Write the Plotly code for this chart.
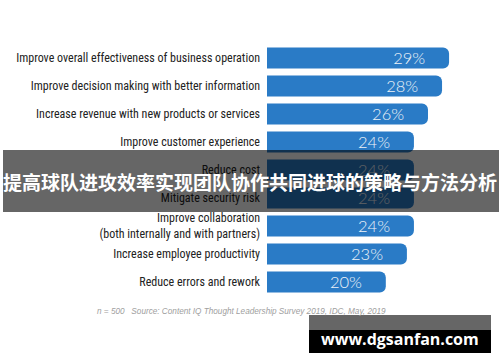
import plotly.graph_objects as go

categories = [
    "Improve overall effectiveness of business operation",
    "Improve decision making with better information",
    "Increase revenue with new products or services",
    "Improve customer experience",
    "Reduce cost",
    "Mitigate security risk",
    "Improve collaboration<br>(both internally and with partners)",
    "Increase employee productivity",
    "Reduce errors and rework",
]
values = [29, 28, 26, 24, 24, 24, 24, 23, 20]
value_labels = [f"{v}%" for v in values]

title_text = "提高球队进攻效率实现团队协作共同进球的策略与方法分析"
source_text = "n = 500   Source: Content IQ Thought Leadership Survey 2019, IDC, May, 2019"
watermark_text = "www.dgsanfan.com"

W, H = 500, 362
L, R, T, B = 267, 0, 44, 66
PW, PH = W - L - R, H - T - B


def px(x):
    return (x - L) / PW


def py(y):
    return (H - B - y) / PH


NB = "\u00a0"
fig = go.Figure(
    go.Bar(
        x=values,
        y=categories,
        orientation="h",
        marker=dict(color="#2a7bc6", cornerradius=6, line=dict(width=0)),
        text=[t + NB * 4 for t in value_labels],
        textposition="inside",
        insidetextanchor="end",
        textangle=0,
        constraintext="none",
        textfont=dict(family="Lato", size=16.5, color="#eef3f8", weight=300),
        hoverinfo="skip",
    )
)

fig.update_layout(
    width=W,
    height=H,
    margin=dict(l=L, r=R, t=T, b=B, pad=0, autoexpand=False),
    paper_bgcolor="white",
    plot_bgcolor="white",
    bargap=0.25,
    showlegend=False,
    uniformtext=dict(minsize=16.5, mode="show"),
    xaxis=dict(range=[3.1, 3.1 + PW / 7.03], visible=False, fixedrange=True, automargin=False),
    yaxis=dict(
        autorange="reversed",
        automargin=False,
        showgrid=False,
        showline=False,
        zeroline=False,
        ticks="",
        ticklabelstandoff=6,
        tickfont=dict(family="Roboto Condensed", size=12, color="#222222"),
    ),
    shapes=[
        dict(type="rect", xref="paper", yref="paper", x0=px(3), x1=px(499), y0=py(212), y1=py(150),
             fillcolor="rgba(0,0,0,0.6)", line=dict(width=0), layer="above"),
        dict(type="rect", xref="paper", yref="paper", x0=px(309), x1=px(491), y0=py(330), y1=py(315),
             fillcolor="rgba(0,0,0,0.6)", line=dict(width=0), layer="above"),
        dict(type="rect", xref="paper", yref="paper", x0=px(309), x1=px(491), y0=py(353), y1=py(330),
             fillcolor="#000000", line=dict(width=0), layer="above"),
    ],
    annotations=[
        dict(text=source_text, xref="paper", yref="paper", x=px(95), y=py(311), xanchor="left", yanchor="middle",
             showarrow=False, font=dict(family="Liberation Sans", size=8.2, color="#a0a0a0", style="italic")),
        dict(text=title_text, xref="paper", yref="paper", x=px(250), y=py(181), xanchor="center", yanchor="middle",
             showarrow=False, font=dict(family="Noto Sans CJK SC", size=19, color="white", weight="bold")),
        dict(text=watermark_text, xref="paper", yref="paper", x=px(400), y=py(339), xanchor="center", yanchor="middle",
             showarrow=False, font=dict(family="Open Sans", size=16, color="white", weight="bold")),
    ],
)

fig.write_html("out.html")
